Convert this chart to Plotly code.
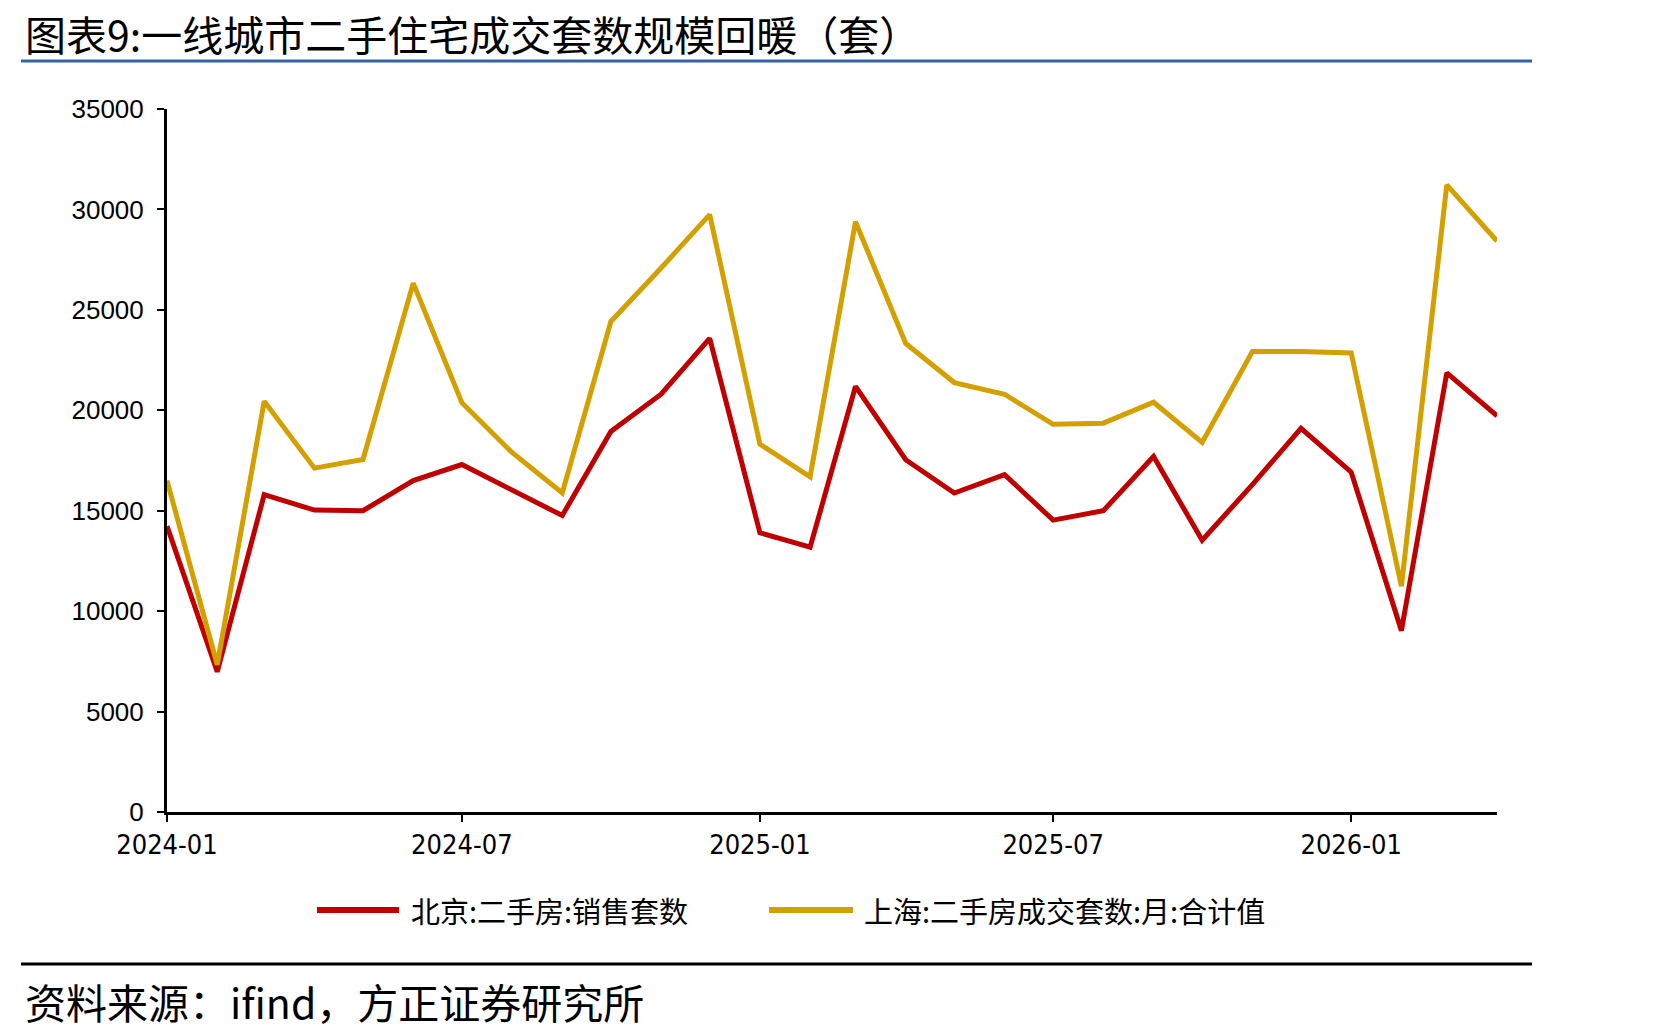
import pandas as pd
import plotly.graph_objects as go

# ---- data ----
months = pd.date_range("2024-01-01", periods=28, freq="MS")
beijing = [14230, 6980, 15800, 15030, 15000, 16500, 17300, 16020, 14760, 18950, 20800, 23580,
           13900, 13180, 21190, 17540, 15880, 16800, 14530, 15000, 17700, 13530, 16300, 19100,
           16920, 9030, 21860, 19720]
shanghai = [16500, 7330, 20450, 17120, 17550, 26330, 20380, 17900, 15890, 24420, 27080, 29740,
            18310, 16690, 29390, 23330, 21380, 20800, 19300, 19360, 20400, 18400, 22930, 22930,
            22850, 11240, 31220, 28430]
name_bj = "北京:二手房:销售套数"
name_sh = "上海:二手房成交套数:月:合计值"
title_text = "图表9:一线城市二手住宅成交套数规模回暖（套）"
source_text = "资料来源：ifind，方正证券研究所"
y_ticks = [0, 5000, 10000, 15000, 20000, 25000, 30000, 35000]
y_tick_labels = [str(v) for v in y_ticks]

W, H = 1659, 1036
L, R, T, B = 167, 162, 109, 224
PW, PH = W - L - R, H - T - B


def px(x, y):
    return (x - L) / PW, (H - B - y) / PH


RED = "#C00000"
GOLD = "#D4A000"
CJK = "Noto Sans CJK SC"

fig = go.Figure()
fig.add_trace(go.Scatter(x=months, y=beijing, mode="lines", name=name_bj,
                         line=dict(color=RED, width=5)))
fig.add_trace(go.Scatter(x=months, y=shanghai, mode="lines", name=name_sh,
                         line=dict(color=GOLD, width=5)))

fig.update_layout(
    width=W, height=H,
    margin=dict(l=L, r=R, t=T, b=B),
    paper_bgcolor="white", plot_bgcolor="white",
    showlegend=False,
)
fig.update_xaxes(
    range=[months[0], months[-1]],
    tick0="2024-01-01", dtick="M6", tickformat="%Y-%m",
    showline=True, linecolor="black", linewidth=3,
    ticks="outside", ticklen=7, tickwidth=2, tickcolor="black",
    showgrid=False, zeroline=False,
    tickfont=dict(family="Liberation Sans Narrow, DejaVu Sans Condensed, Liberation Sans", size=27, color="black"),
)
fig.update_yaxes(
    range=[0, 35000], tickvals=y_ticks, ticktext=y_tick_labels,
    showline=True, linecolor="black", linewidth=3,
    ticks="outside", ticklen=7, tickwidth=2, tickcolor="black",
    showgrid=False, zeroline=False, ticklabelstandoff=8,
    tickfont=dict(family="Liberation Sans, Arial", size=26, color="black"),
)

shapes = []
annotations = []

# title and its underline
tx, ty = px(23, 1)
annotations.append(dict(text=title_text, x=tx, y=ty, xref="paper", yref="paper",
                        xanchor="left", yanchor="top", showarrow=False,
                        font=dict(family=CJK, size=41, color="black")))
x0, y0 = px(21, 61)
x1, _ = px(1532, 61)
shapes.append(dict(type="line", xref="paper", yref="paper", x0=x0, x1=x1, y0=y0, y1=y0,
                   line=dict(color="#3562A8", width=3)))

# legend (drawn manually)
for (lx0, lx1, tx0, col, nm) in [(317, 399, 409, RED, name_bj), (769, 853, 862, GOLD, name_sh)]:
    a0, ly = px(lx0, 910)
    a1, _ = px(lx1, 910)
    shapes.append(dict(type="line", xref="paper", yref="paper", x0=a0, x1=a1, y0=ly, y1=ly,
                       line=dict(color=col, width=6)))
    t0, _ = px(tx0, 910)
    annotations.append(dict(text=nm, x=t0, y=ly, xref="paper", yref="paper",
                            xanchor="left", yanchor="middle", showarrow=False,
                            font=dict(family=CJK, size=29, color="black")))

# bottom rule and source
x0, y0 = px(21, 964)
x1, _ = px(1532, 964)
shapes.append(dict(type="line", xref="paper", yref="paper", x0=x0, x1=x1, y0=y0, y1=y0,
                   line=dict(color="black", width=3)))
sx, sy = px(23, 1001)
annotations.append(dict(text=source_text, x=sx, y=sy, xref="paper", yref="paper",
                        xanchor="left", yanchor="middle", showarrow=False,
                        font=dict(family=CJK, size=41, color="black")))

fig.update_layout(shapes=shapes, annotations=annotations)
fig.write_html("out.html")
